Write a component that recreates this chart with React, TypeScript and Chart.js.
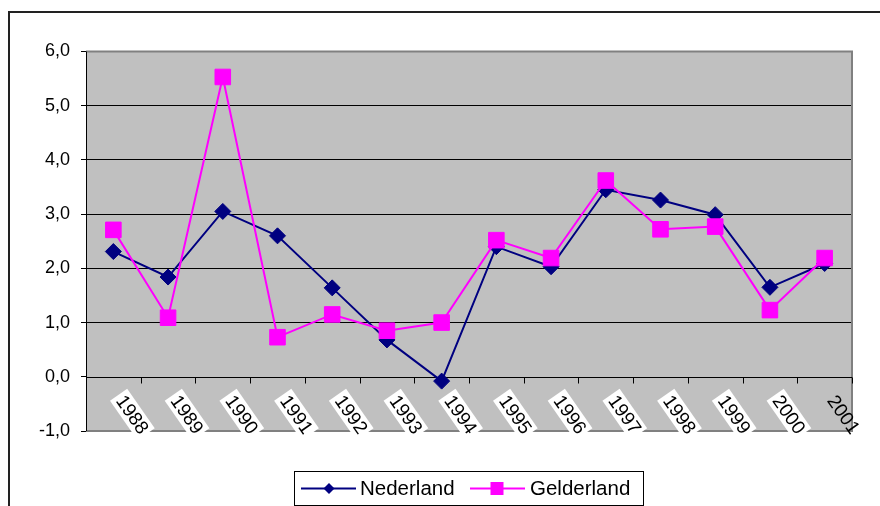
import React, { useEffect, useRef } from "react";
import { Chart, registerables } from "chart.js";

Chart.register(...registerables);

const years = ["1988", "1989", "1990", "1991", "1992", "1993", "1994", "1995", "1996", "1997", "1998", "1999", "2000", "2001"];
const nederland = [2.31, 1.84, 3.05, 2.6, 1.64, 0.68, -0.08, 2.4, 2.03, 3.45, 3.26, 2.99, 1.65, 2.09];
const gelderland = [2.71, 1.09, 5.53, 0.73, 1.15, 0.85, 1.0, 2.52, 2.19, 3.62, 2.72, 2.77, 1.23, 2.19];
const seriesNames = ["Nederland", "Gelderland"];
const yMin = -1;
const yMax = 6;

const FONT = '"Liberation Sans", Arial, sans-serif';
const NAVY = "#000080";
const MAGENTA = "#FF00FF";

const decorPlugin = {
  id: "decor",
  beforeDraw(chart: any) {
    const { ctx, chartArea } = chart;
    ctx.save();
    ctx.fillStyle = "#ffffff";
    ctx.fillRect(0, 0, chart.width, chart.height);
    ctx.fillStyle = "#C0C0C0";
    ctx.fillRect(chartArea.left, chartArea.top, chartArea.right - chartArea.left, chartArea.bottom - chartArea.top);
    ctx.restore();
  },
  beforeDatasetsDraw(chart: any) {
    const { ctx, chartArea } = chart;
    const xs = chart.scales.x;
    const ys = chart.scales.y;
    ctx.save();
    // plot border (gray)
    ctx.strokeStyle = "#808080";
    ctx.lineWidth = 2;
    ctx.beginPath();
    ctx.moveTo(chartArea.left, chartArea.top);
    ctx.lineTo(chartArea.right, chartArea.top);
    ctx.lineTo(chartArea.right, chartArea.bottom);
    ctx.lineTo(chartArea.left, chartArea.bottom);
    ctx.stroke();
    // left axis
    ctx.strokeStyle = "#000";
    ctx.lineWidth = 1;
    ctx.beginPath();
    ctx.moveTo(chartArea.left + 0.5, chartArea.top);
    ctx.lineTo(chartArea.left + 0.5, chartArea.bottom);
    ctx.stroke();
    // category axis at zero
    const y0 = Math.round(ys.getPixelForValue(0)) + 0.5;
    ctx.beginPath();
    ctx.moveTo(chartArea.left, y0);
    ctx.lineTo(chartArea.right, y0);
    const n = years.length;
    const step = (chartArea.right - chartArea.left) / n;
    for (let i = 1; i <= n; i++) {
      const tx = Math.round(chartArea.left + step * i) + 0.5;
      ctx.moveTo(tx, y0);
      ctx.lineTo(tx, y0 + 6);
    }
    ctx.stroke();
    // rotated category labels
    ctx.font = "19px " + FONT;
    ctx.textAlign = "center";
    ctx.textBaseline = "middle";
    for (let i = 0; i < n; i++) {
      const px = xs.getPixelForValue(i);
      ctx.save();
      ctx.translate(px + 19, y0 + 37);
      ctx.rotate((55 * Math.PI) / 180);
      if (i < n - 1) {
        ctx.fillStyle = "#ffffff";
        ctx.fillRect(-24, -10.5, 48, 21);
      }
      ctx.fillStyle = "#000";
      ctx.fillText(years[i], 0, 1);
      ctx.restore();
    }
    ctx.restore();
  },
  afterDraw(chart: any) {
    const { ctx } = chart;
    ctx.save();
    // outer frame
    ctx.strokeStyle = "#222";
    ctx.lineWidth = 2;
    ctx.strokeRect(9, 12, 1000, 1000);
    // legend
    ctx.strokeStyle = "#000";
    ctx.lineWidth = 1;
    ctx.fillStyle = "#fff";
    ctx.fillRect(294.5, 471.5, 349, 34);
    ctx.strokeRect(294.5, 471.5, 349, 34);
    const ly = 488.5;
    // Nederland
    ctx.strokeStyle = NAVY;
    ctx.lineWidth = 2;
    ctx.beginPath();
    ctx.moveTo(301, ly);
    ctx.lineTo(356, ly);
    ctx.stroke();
    ctx.fillStyle = NAVY;
    ctx.beginPath();
    ctx.moveTo(329, ly - 5.5);
    ctx.lineTo(334.5, ly);
    ctx.lineTo(329, ly + 5.5);
    ctx.lineTo(323.5, ly);
    ctx.closePath();
    ctx.fill();
    // Gelderland
    ctx.strokeStyle = MAGENTA;
    ctx.beginPath();
    ctx.moveTo(470, ly);
    ctx.lineTo(525, ly);
    ctx.stroke();
    ctx.fillStyle = MAGENTA;
    ctx.fillRect(490.5, ly - 6.5, 13, 13);
    ctx.fillStyle = "#000";
    ctx.font = "20.5px " + FONT;
    ctx.textAlign = "left";
    ctx.textBaseline = "middle";
    ctx.fillText(seriesNames[0], 360, ly + 1);
    ctx.fillText(seriesNames[1], 530, ly + 1);
    ctx.restore();
  },
};

export default function App() {
  const ref = useRef<HTMLCanvasElement | null>(null);
  useEffect(() => {
    if (!ref.current) return;
    const chart = new Chart(ref.current, {
      type: "line",
      data: {
        labels: years,
        datasets: [
          {
            label: seriesNames[0],
            data: nederland,
            borderColor: NAVY,
            backgroundColor: NAVY,
            borderWidth: 2,
            pointStyle: "rectRot",
            pointRadius: 8,
            pointBorderWidth: 1,
            tension: 0,
            order: 2,
          },
          {
            label: seriesNames[1],
            data: gelderland,
            borderColor: MAGENTA,
            backgroundColor: MAGENTA,
            borderWidth: 2,
            pointStyle: "rect",
            pointRadius: 11,
            pointBorderWidth: 1,
            tension: 0,
            order: 1,
          },
        ],
      },
      options: {
        responsive: false,
        animation: false,
        devicePixelRatio: 1,
        layout: { padding: { left: 0, top: 51.5, right: 28, bottom: 75 } },
        plugins: { legend: { display: false }, tooltip: { enabled: false } },
        scales: {
          x: { type: "category", display: false, offset: true },
          y: {
            min: yMin,
            max: yMax,
            afterFit(scale: any) {
              scale.width = 86;
            },
            ticks: {
              stepSize: 1,
              color: "#000",
              padding: 11,
              font: { family: FONT, size: 18 },
              callback: (v: any) => Number(v).toFixed(1).replace(".", ","),
            },
            grid: {
              color: (c: any) => (c.tick && (c.tick.value === yMin || c.tick.value === yMax || c.tick.value === 0) ? "rgba(0,0,0,0)" : "#000"),
              tickColor: "#000",
              tickLength: 5,
              lineWidth: 1,
            },
            border: { display: false },
          },
        },
      },
      plugins: [decorPlugin],
    });
    return () => chart.destroy();
  }, []);
  return (
    <div style={{ position: "absolute", left: 0, top: 0, width: 880, height: 506 }}>
      <canvas ref={ref} width={880} height={506} />
    </div>
  );
}
